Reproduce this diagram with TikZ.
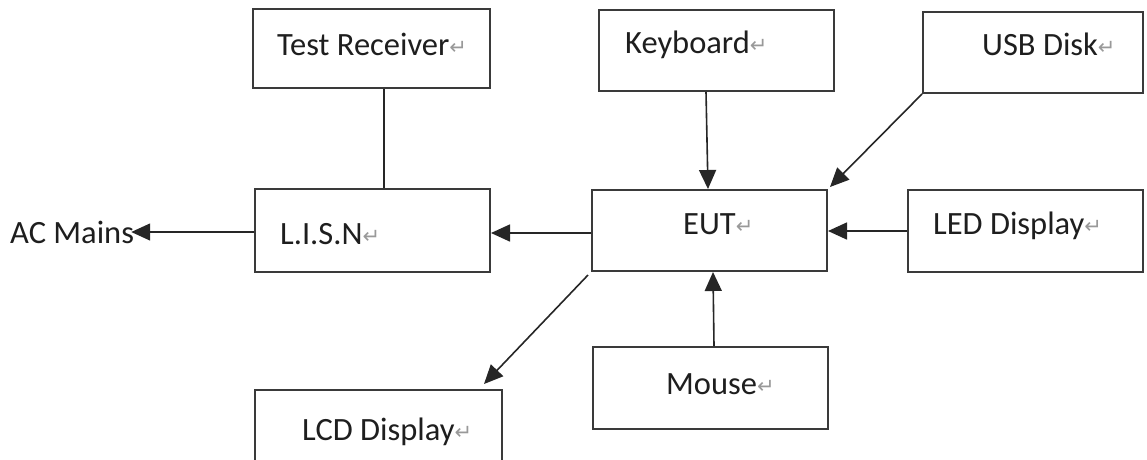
\documentclass[tikz,border=0pt]{standalone}
\usepackage{fontspec}
\setmainfont{Carlito}
\newfontfamily\retfont{DejaVu Sans}
\usetikzlibrary{arrows.meta}
\definecolor{boxgray}{HTML}{3A3A3A}
\definecolor{txtgray}{HTML}{1E1E1E}
\newcommand{\ret}{{\retfont\fontsize{21}{24}\selectfont\color{gray!80}\raisebox{1pt}{↵}}}
\tikzset{
  box/.style={draw=boxgray, line width=2pt, rectangle, inner sep=0pt, fill=none},
  lbl/.style={inner sep=0pt, anchor=base west, text=txtgray, font=\fontsize{32.5}{38}\selectfont},
  conn/.style={draw=black!85, line width=1.6pt},
  arr/.style={conn, -{Triangle[length=19pt,width=17pt]}}
}
\begin{document}
\begin{tikzpicture}[x=1pt,y=-1pt]
\clip (0,0) rectangle (1147,459);
\fill[white] (0,0) rectangle (1147,459);
% boxes
\node[box, minimum width=237pt, minimum height=79pt] (tr) at (371.5,48.5) {};
\node[box, minimum width=235pt, minimum height=81pt] (kb) at (716.5,50.5) {};
\node[box, minimum width=220pt, minimum height=81pt] (usb) at (1033,52.5) {};
\node[box, minimum width=235pt, minimum height=83pt] (lisn) at (372.5,230.5) {};
\node[box, minimum width=235pt, minimum height=81pt] (eut) at (709.5,230.5) {};
\node[box, minimum width=235pt, minimum height=82pt] (led) at (1025.5,231) {};
\node[box, minimum width=235pt, minimum height=82pt] (mouse) at (710.5,388) {};
\node[box, minimum width=247pt, minimum height=84pt] (lcd) at (378.5,432) {};
% labels
\node[lbl] (trt) at (277,55) {Test Receiver\ret};
\node[lbl] (kbt) at (625,53) {Keyboard\ret};
\node[lbl] (usbt) at (982,55) {USB Disk\ret};
\node[lbl] (lisnt) at (280,244) {L.I.S.N\ret};
\node[lbl] (eutt) at (683,234) {EUT\ret};
\node[lbl] (ledt) at (933,234) {LED Display\ret};
\node[lbl] (mouset) at (666,394) {Mouse\ret};
\node[lbl] (lcdt) at (302,440) {LCD Display\ret};
\node[lbl] (ac) at (10,243) {AC Mains};
% connectors
\draw[conn] ([xshift=12.5pt]tr.south) -- ([xshift=11.5pt]lisn.north);
\draw[arr] ([xshift=-10.5pt]kb.south) -- ([xshift=-1.5pt]eut.north);
\draw[arr] (usb.south west) -- ([shift={(2pt,2pt)}]eut.north east);
\draw[arr] (led.west) -- (led.west -| eut.east);
\draw[arr] ([xshift=3.5pt]mouse.north) -- ([xshift=3.5pt]eut.south);
\draw[arr] ([yshift=-2.5pt]eut.west) -- ([yshift=-2.5pt]eut.west -| lisn.east);
\draw[arr] ([yshift=-1.5pt]lisn.west) -- ([yshift=-1.5pt,xshift=-3pt]lisn.west -| ac.east);
\draw[arr] ([shift={(-3pt,-3pt)}]eut.south west) -- ([shift={(-19pt,5pt)}]lcd.north east);
\end{tikzpicture}
\end{document}
